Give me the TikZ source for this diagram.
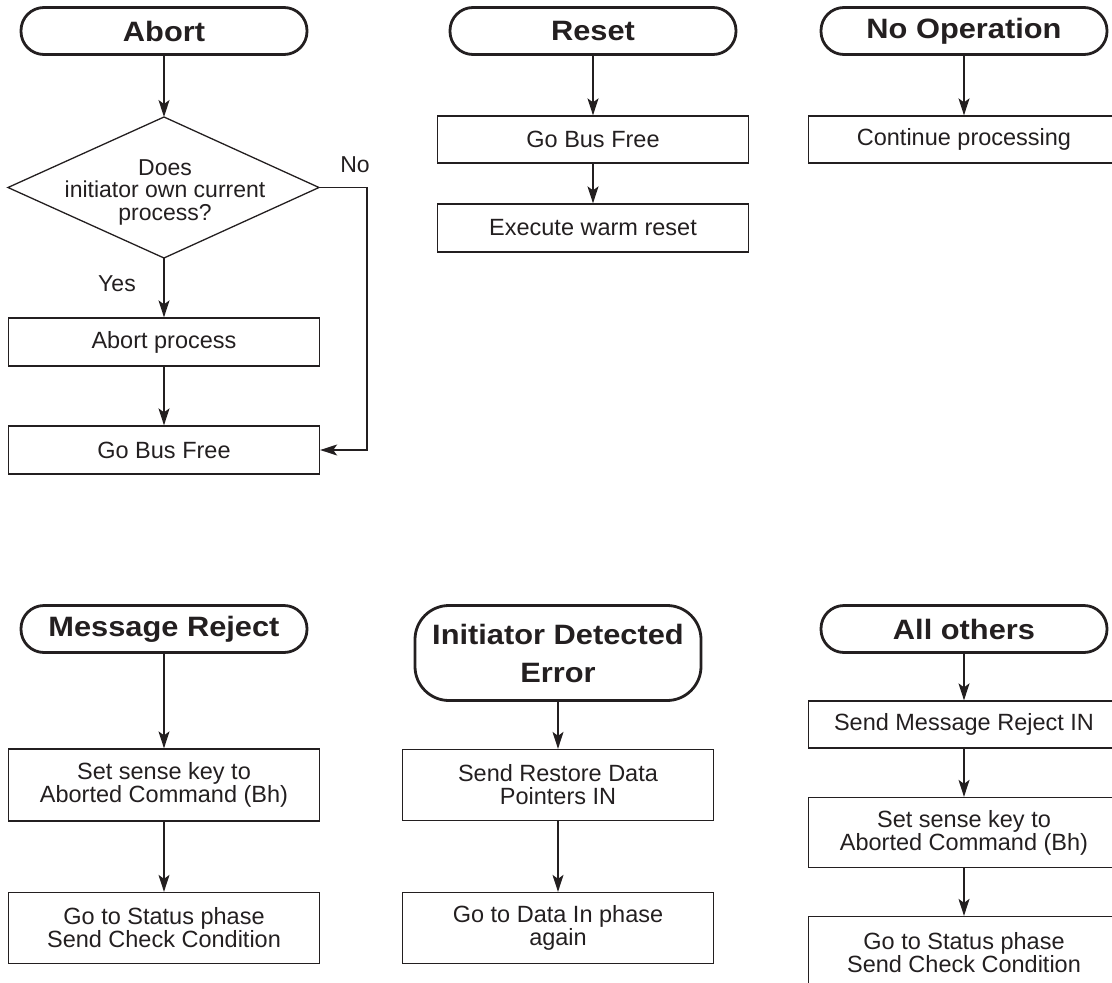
\documentclass[tikz,border=0pt]{standalone}
\usepackage{fontspec}
\setmainfont{Liberation Sans}
\newfontfamily\titlefont[FakeStretch=1.1]{Liberation Sans}
\usetikzlibrary{arrows.meta}
\definecolor{ink}{HTML}{231F20}
\tikzset{
  x=1pt, y=-1pt,
  box/.style={draw=ink, text=ink, line width=1.3pt, minimum width=311pt, inner sep=0pt, align=center,
              font=\fontsize{23.5}{23}\selectfont},
  term/.style={draw=ink, text=ink, line width=2.8pt, rounded corners=23pt, minimum width=286pt,
               minimum height=47pt, inner sep=0pt, align=center,
               font=\titlefont\bfseries\fontsize{28}{38}\selectfont},
  lbl/.style={text=ink, inner sep=0pt, align=center, font=\fontsize{23}{22.5}\selectfont},
  arr/.style={draw=ink, line width=1.3pt, -{Stealth[length=17pt,width=11pt,inset=4pt]}},
  conn/.style={draw=ink, line width=1.3pt}
}
\begin{document}
\begin{tikzpicture}
\useasboundingbox (0,0) rectangle (1112,983);
\clip (0,0) rectangle (1112,983);

% ---------- Abort ----------
\node[term] (abort) at (164,31) {Abort};
\coordinate (dtop) at (164,117);
\coordinate (dright) at (319,187.5);
\coordinate (dbot) at (164,258);
\coordinate (dleft) at (8,187.5);
\draw[conn] (dtop) -- (dright) -- (dbot) -- (dleft) -- cycle;
\node[lbl] (dtext) at (165,192) {Does\\initiator own current\\process?};
\node[lbl] (no) at (355,165) {No};
\node[lbl] (yes) at (117,284) {Yes};
\node[box, minimum height=48pt] (ap) at (164,342) {Abort process};
\node[box, minimum height=48pt] (gbf1) at (164,450) {Go Bus Free};
\coordinate (nocorner1) at (367,187.5);
\coordinate (nocorner2) at (367,450);
\draw[arr] (abort) -- (dtop);
\draw[arr] (dbot) -- (ap);
\draw[arr] (ap) -- (gbf1);
\draw[arr] (dright) -- (nocorner1) -- (nocorner2) -- (gbf1);

% ---------- Reset ----------
\node[term] (reset) at (593,31) {Reset};
\node[box, minimum height=47pt] (gbf2) at (593,139.5) {Go Bus Free};
\node[box, minimum height=48pt] (ewr) at (593,228) {Execute warm reset};
\draw[arr] (reset) -- (gbf2);
\draw[arr] (gbf2) -- (ewr);

% ---------- No Operation ----------
\node[term] (noop) at (964,31) {No Operation};
\node[box, minimum height=47pt] (cont) at (964,139.5) {Continue processing};
\draw[arr] (noop) -- (cont);

% ---------- Message Reject ----------
\node[term] (mr) at (164,629) {Message Reject};
\node[box, minimum height=72pt] (mr1) at (164,785) {Set sense key to\\Aborted Command (Bh)};
\node[box, minimum height=71pt] (mr2) at (164,928) {Go to Status phase\\Send Check Condition};
\draw[arr] (mr) -- (mr1);
\draw[arr] (mr1) -- (mr2);

% ---------- Initiator Detected Error ----------
\node[term, minimum height=95pt, rounded corners=34pt] (ide) at (558,653) {Initiator Detected\\Error};
\node[box, minimum height=71pt] (ide1) at (558,785) {Send Restore Data\\Pointers IN};
\node[box, minimum height=71pt] (ide2) at (558,928) {Go to Data In phase\\again};
\draw[arr] (ide) -- (ide1);
\draw[arr] (ide1) -- (ide2);

% ---------- All others ----------
\node[term] (ao) at (964,629) {All others};
\node[box, minimum height=47pt] (ao1) at (964,724.5) {Send Message Reject IN};
\node[box, minimum height=70pt] (ao2) at (964,832.5) {Set sense key to\\Aborted Command (Bh)};
\node[box, minimum height=72pt] (ao3) at (964,952.5) {Go to Status phase\\Send Check Condition};
\draw[arr] (ao) -- (ao1);
\draw[arr] (ao1) -- (ao2);
\draw[arr] (ao2) -- (ao3);
\end{tikzpicture}
\end{document}
